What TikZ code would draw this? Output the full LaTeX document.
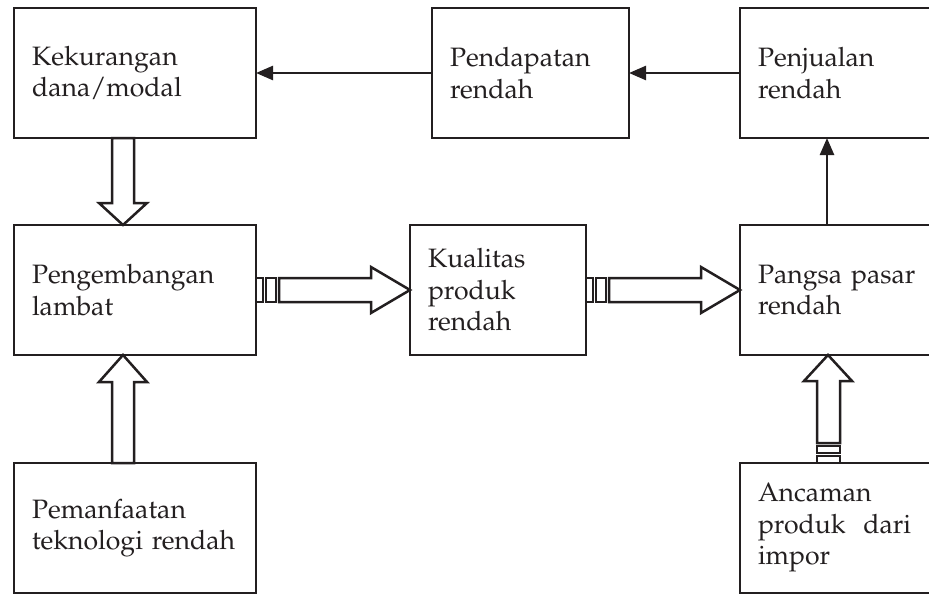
\documentclass[tikz,border=0pt]{standalone}
\usepackage[T1]{fontenc}
\usepackage{mathpazo}
\usepackage{tikz}
\usetikzlibrary{arrows.meta,positioning,calc}
\definecolor{inkgray}{RGB}{35,31,32}
\tikzset{
  basebox/.style={rectangle,draw=inkgray,line width=2.5pt,fill=white,align=left,text=inkgray,
    font=\fontsize{26.6}{31.5}\selectfont,inner xsep=18pt,inner ysep=0pt,outer sep=0pt,minimum height=130pt},
  widebox/.style={basebox,text width=206pt},
  midbox/.style={basebox,text width=161pt},
  smallbox/.style={basebox,text width=140pt},
  edgebox/.style={basebox,text width=184pt},
  hollowarr/.style={draw=inkgray,line width=2.5pt,fill=white},
  solidarr/.style={-{Triangle[length=17pt,width=14pt]},line width=2.5pt,draw=inkgray}
}
\begin{document}
\begin{tikzpicture}[x=1pt,y=-1pt]
  \useasboundingbox (0,0) rectangle (929,594);
  \clip (0,0) rectangle (929,594);
  % top row
  \node[widebox] (kd) at (135,73) {Kekurangan\\dana/modal};
  \node[midbox,right=176pt of kd] (pd) {Pendapatan\\rendah};
  \node[edgebox,right=111pt of pd] (pj) {Penjualan\\rendah};
  % middle row
  \node[widebox,below=87pt of kd] (pe) {Pengembangan\\lambat};
  \node[smallbox,right=154pt of pe] (kp) {Kualitas\\produk\\rendah};
  \node[edgebox,right=154pt of kp] (ps) {Pangsa pasar\\rendah};
  % bottom row
  \node[widebox,below=108pt of pe] (pt) {Pemanfaatan\\teknologi rendah};
  \node[edgebox,below=108pt of ps] (ac) {Ancaman\\produk \ dari\\impor};

  \draw[solidarr] (pd.west) -- (kd.east);
  \draw[solidarr] (pj.west) -- (pd.east);
  \draw[solidarr] ($(ps.north west)+(87,0)$) -- ($(pj.south west)+(87,0)$);

  % hollow arrows
  \draw[hollowarr] ($(kd.south west)+(98,0)$) -- ($(pe.north west)+(98,-22)$) -- ($(pe.north west)+(85,-22)$)
    -- ($(pe.north west)+(109,0)$) -- ($(pe.north west)+(133,-22)$) -- ($(pe.north west)+(120,-22)$)
    -- ($(kd.south west)+(120,0)$) -- cycle;
  \draw[hollowarr] ($(pt.north west)+(98,0)$) -- ($(pe.south west)+(98,27)$) -- ($(pe.south west)+(85,27)$)
    -- ($(pe.south west)+(109,0)$) -- ($(pe.south west)+(133,27)$) -- ($(pe.south west)+(120,27)$)
    -- ($(pt.north west)+(120,0)$) -- cycle;

  \draw[hollowarr] ($(pe.east)+(23,-12)$) -- ($(kp.west)+(-39,-12)$) -- ($(kp.west)+(-39,-23)$) -- (kp.west)
    -- ($(kp.west)+(-39,23)$) -- ($(kp.west)+(-39,12)$) -- ($(pe.east)+(23,12)$) -- cycle;
  \draw[hollowarr] ($(pe.east)+(0,-12)$) rectangle ++(7,24);
  \draw[hollowarr] ($(pe.east)+(10,-12)$) rectangle ++(10,24);

  \draw[hollowarr] ($(kp.east)+(23,-12)$) -- ($(ps.west)+(-39,-12)$) -- ($(ps.west)+(-39,-23)$) -- (ps.west)
    -- ($(ps.west)+(-39,23)$) -- ($(ps.west)+(-39,12)$) -- ($(kp.east)+(23,12)$) -- cycle;
  \draw[hollowarr] ($(kp.east)+(0,-12)$) rectangle ++(7,24);
  \draw[hollowarr] ($(kp.east)+(10,-12)$) rectangle ++(10,24);

  \draw[hollowarr] ($(ac.north west)+(77,-20)$) -- ($(ps.south west)+(77,26)$) -- ($(ps.south west)+(64,26)$)
    -- ($(ps.south west)+(88,0)$) -- ($(ps.south west)+(112,26)$) -- ($(ps.south west)+(100,26)$)
    -- ($(ac.north west)+(100,-20)$) -- cycle;
  \draw[hollowarr] ($(ac.north west)+(77,-7)$) rectangle ++(23,7);
  \draw[hollowarr] ($(ac.north west)+(77,-17)$) rectangle ++(23,7);
\end{tikzpicture}
\end{document}
